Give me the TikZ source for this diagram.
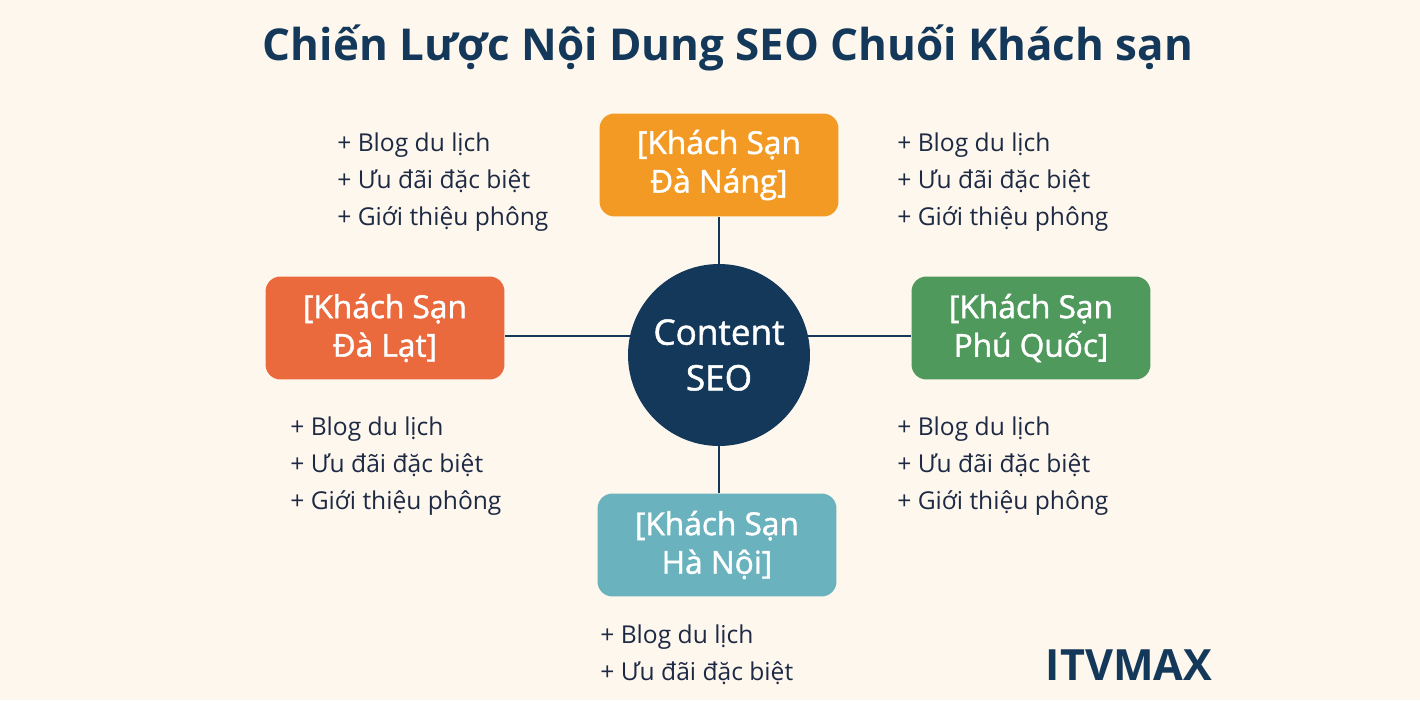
\documentclass[tikz,border=0pt]{standalone}
\usepackage{fontspec}
\setmainfont{Open Sans}
\newfontfamily\medfont[FakeBold=1.3]{Open Sans}
\definecolor{bg}{HTML}{FDF7EE}
\definecolor{navy}{HTML}{14385A}
\definecolor{ink}{HTML}{1E2A44}
\definecolor{orangebox}{HTML}{F39A24}
\definecolor{redbox}{HTML}{EA6A3D}
\definecolor{greenbox}{HTML}{4F995D}
\definecolor{tealbox}{HTML}{6AB2BD}

\tikzset{
  hotel/.style={rounded corners=0.3cm, minimum width=4.78cm, minimum height=2.06cm,
    align=center, text=white, font=\medfont\fontsize{18}{22}\selectfont},
  items/.style={anchor=west, align=left, text=ink, inner sep=0pt,
    font=\fontsize{14}{21}\selectfont},
  link/.style={draw=navy, line width=1.1pt},
}

\begin{document}
\begin{tikzpicture}[x=0.02cm, y=-0.02cm]
\fill[bg] (0,0) rectangle (1420,700);

\node[text=navy, font=\bfseries\fontsize{25}{28}\selectfont] (title) at (728,48) {Chiến Lược Nội Dung SEO Chuối Khách sạn};

\node[circle, fill=navy, minimum size=3.64cm, text=white, align=center,
  font=\medfont\fontsize{20}{26}\selectfont] (hub) at (719,355) {Content\\SEO};

\node[hotel, fill=orangebox] (danang) at (719,165) {[Khách Sạn\\Đà Náng]};
\node[hotel, fill=redbox] (dalat) at (385,328) {[Khách Sạn\\Đà Lạt]};
\node[hotel, fill=greenbox] (phuquoc) at (1031,328) {[Khách Sạn\\Phú Quốc]};
\node[hotel, fill=tealbox] (hanoi) at (717,545) {[Khách Sạn\\Hà Nội]};

\draw[link] (hub.north) -- (danang.south);
\draw[link] (hub.south) -- (hub.south |- hanoi.north);
\draw[link] (hub.168) -- (hub.168 -| dalat.east);
\draw[link] (hub.12) -- (hub.12 -| phuquoc.west);

\node[items] (list1) at (337,182) {+ Blog du lịch\\+ Ưu đãi đặc biệt\\+ Giới thiệu phông};
\node[items] (list2) at (897,182) {+ Blog du lịch\\+ Ưu đãi đặc biệt\\+ Giới thiệu phông};
\node[items] (list3) at (290,466) {+ Blog du lịch\\+ Ưu đãi đặc biệt\\+ Giới thiệu phông};
\node[items] (list4) at (897,466) {+ Blog du lịch\\+ Ưu đãi đặc biệt\\+ Giới thiệu phông};
\node[items] (list5) at (600,655) {+ Blog du lịch\\+ Ưu đãi đặc biệt};

\node[text=navy, font=\bfseries\fontsize{24.5}{28}\selectfont] (brand) at (1129,665) {ITVMAX};
\end{tikzpicture}
\end{document}
